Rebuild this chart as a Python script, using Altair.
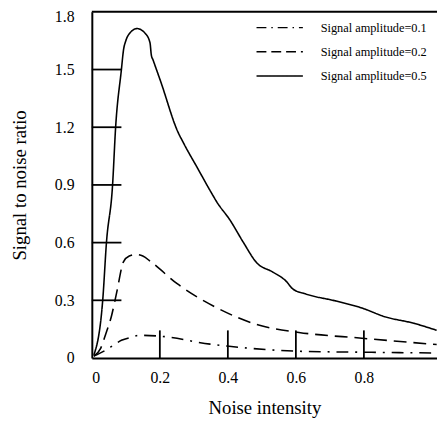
import altair as alt
import pandas as pd

series_names = ["Signal amplitude=0.1", "Signal amplitude=0.2", "Signal amplitude=0.5"]

x_01 = [0.006, 0.04, 0.064, 0.087, 0.116, 0.14, 0.203, 0.348, 0.397, 0.609, 0.803, 1.014]
y_01 = [0.010, 0.04, 0.067, 0.092, 0.108, 0.118, 0.113, 0.072, 0.062, 0.035, 0.030, 0.026]

x_02 = [0.006, 0.026, 0.040, 0.058, 0.073, 0.093, 0.110, 0.131, 0.150, 0.174, 0.252, 0.362, 0.493, 0.609, 0.794, 1.014]
y_02 = [0.010, 0.050, 0.120, 0.220, 0.340, 0.500, 0.530, 0.538, 0.530, 0.500, 0.385, 0.266, 0.170, 0.133, 0.103, 0.070]

x_05 = [0.006, 0.032, 0.043, 0.061, 0.070, 0.087, 0.093, 0.100, 0.112, 0.133, 0.156, 0.171, 0.175, 0.180, 0.203,
        0.252, 0.272, 0.310, 0.348, 0.368, 0.406, 0.446, 0.484, 0.533, 0.571, 0.591, 0.629, 0.716, 0.794, 0.861, 0.948, 1.014]
y_05 = [0.015, 0.300, 0.600, 0.900, 1.200, 1.500, 1.600, 1.650, 1.690, 1.713, 1.690, 1.640, 1.575, 1.550, 1.435,
        1.180, 1.110, 0.990, 0.870, 0.810, 0.718, 0.600, 0.497, 0.446, 0.400, 0.359, 0.333, 0.297, 0.260, 0.215, 0.180, 0.144]

x_ticks = [0, 0.2, 0.4, 0.6, 0.8]
y_ticks = [0, 0.3, 0.6, 0.9, 1.2, 1.5, 1.8]
x_inner_ticks = [0.2, 0.4, 0.6, 0.8]
y_inner_ticks = [0.3, 0.6, 0.9, 1.2, 1.5]

line_dashes = [[12, 7, 2, 7], [13, 7], [1, 0]]
legend_dashes = [[10, 5, 1.5, 5], [10, 5], [1, 0]]

rows = []
for name, xs, ys in zip(series_names, [x_01, x_02, x_05], [y_01, y_02, y_05]):
    for i, (a, b) in enumerate(zip(xs, ys)):
        rows.append({"series": name, "x": a, "y": b, "order": i})
df = pd.DataFrame(rows)

W, H = 350, 351
FONT = "Liberation Serif"

xscale = alt.Scale(domain=[0, 1.015], nice=False)
yscale = alt.Scale(domain=[0, 1.8], nice=False)

lines = alt.Chart(df).mark_line(color="black", strokeWidth=1.6, interpolate="monotone", clip=True).encode(
    x=alt.X("x:Q", scale=xscale, title="Noise intensity",
            axis=alt.Axis(values=x_ticks, format="~g", tickSize=0, grid=False, labelPadding=12,
                          titlePadding=13, domainWidth=2, domainColor="black")),
    y=alt.Y("y:Q", scale=yscale, title="Signal to noise ratio",
            axis=alt.Axis(values=y_ticks, format="~g", tickSize=0, grid=False, labelPadding=18,
                          labelOffset={"condition": {"test": "datum.value >= 1.79", "value": 5}, "value": 0},
                          titlePadding=25, domainWidth=2, domainColor="black")),
    strokeDash=alt.StrokeDash("series:N", scale=alt.Scale(domain=series_names, range=line_dashes), legend=None),
    order="order:Q",
)

yt = alt.Chart(pd.DataFrame({"v": y_inner_ticks})).mark_rule(color="black", strokeWidth=1.8).encode(
    y=alt.Y("v:Q", scale=yscale), x=alt.value(0), x2=alt.value(30))
xt = alt.Chart(pd.DataFrame({"v": x_inner_ticks})).mark_rule(color="black", strokeWidth=1.8).encode(
    x=alt.X("v:Q", scale=xscale), y=alt.value(H), y2=alt.value(H - 28))
top = alt.Chart(pd.DataFrame({"v": [1.8]})).mark_rule(color="black", strokeWidth=2).encode(
    y=alt.Y("v:Q", scale=yscale), x=alt.value(0), x2=alt.value(W))

# legend drawn by hand (symbol line + label per series)
legend_layers = []
for i, (name, dash) in enumerate(zip(series_names, legend_dashes)):
    yy = 16 + 24.5 * i
    ldf = pd.DataFrame({"label": [name]})
    legend_layers.append(
        alt.Chart(ldf).mark_rule(color="black", strokeWidth=1.5, strokeDash=dash).encode(
            x=alt.value(167), x2=alt.value(214), y=alt.value(yy)))
    legend_layers.append(
        alt.Chart(ldf).mark_text(align="left", baseline="middle", font=FONT, fontSize=12.5, color="black").encode(
            x=alt.value(232), y=alt.value(yy), text="label:N"))

chart = alt.layer(lines, yt, xt, top, *legend_layers).properties(
    width=W, height=H,
    autosize=alt.AutoSizeParams(type="none"),
    padding={"left": 85, "top": 1, "right": 0, "bottom": 62},
).configure_view(stroke=None).configure_axis(
    labelFont=FONT, labelFontSize=16, labelColor="black", titleFont=FONT, titleFontSize=19,
    titleFontWeight="normal", titleColor="black"
)

chart.save("out.html", embed_options={"renderer": "svg", "actions": False})
